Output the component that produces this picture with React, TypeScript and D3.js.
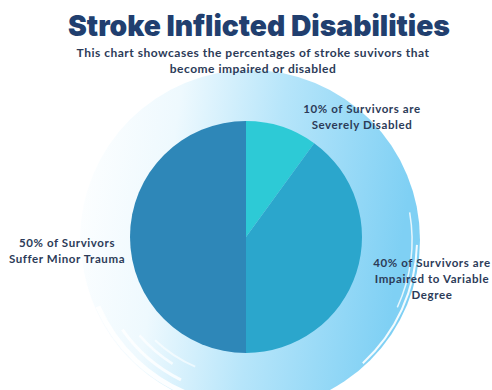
import React from "react";
import * as d3 from "d3";

const categories = ["Severely Disabled", "Impaired to Variable Degree", "Suffer Minor Trauma"];
const values = [10, 40, 50];
const colors = ["#2dcad6", "#2ba6cc", "#2e87b8"];
const labelLines = [
  ["10% of Survivors are", "Severely Disabled"],
  ["40% of Survivors are", "Impaired to Variable", "Degree"],
  ["50% of Survivors", "Suffer Minor Trauma"],
];
const title = "Stroke Inflicted Disabilities";
const subtitle = ["This chart showcases the percentages of stroke suvivors that", "become impaired or disabled"];

const W = 492;
const H = 390;

export default function App() {
  const cx = 246;
  const cy = 237;
  const r = 116;
  const bgR = 170;
  const bgCx = 250;
  const bgCy = 240;

  const pie = d3.pie<number>().sort(null).startAngle(0).endAngle(2 * Math.PI);
  const arcs = pie(values);
  const arcGen = d3.arc<d3.PieArcDatum<number>>().innerRadius(0).outerRadius(r);

  const labelPos = [
    { x: 362, y: 113 },
    { x: 432, y: 267 },
    { x: 67, y: 247 },
  ];

  const streaks = [
    { r: bgR - 4, a0: 3.5, a1: 4.3, w: 5, o: 0.9 },
    { r: bgR - 14, a0: 3.6, a1: 4.1, w: 3, o: 0.8 },
    { r: bgR - 24, a0: 3.7, a1: 4.0, w: 2.5, o: 0.7 },
    { r: bgR - 32, a0: 3.55, a1: 3.9, w: 2, o: 0.6 },
    { r: bgR + 2, a0: 3.3, a1: 4.6, w: 6, o: 1 },
    { r: bgR - 8, a0: 1.4, a1: 2.0, w: 1.5, o: 0.8 },
    { r: bgR - 3, a0: 1.6, a1: 2.4, w: 2, o: 0.9 },
  ];
  const streakArc = (s: { r: number; a0: number; a1: number; w: number }) =>
    d3.arc()({ innerRadius: s.r - s.w / 2, outerRadius: s.r + s.w / 2, startAngle: s.a0, endAngle: s.a1 } as any) as string;

  return (
    <div style={{ position: "fixed", left: 0, top: 0, width: W, height: H, background: "#fff" }}>
      <svg width={W} height={H} viewBox={`0 0 ${W} ${H}`} style={{ display: "block" }}>
        <defs>
          <linearGradient id="bgGrad" x1="0" y1="0" x2="1" y2="0.15">
            <stop offset="0" stopColor="#ffffff" />
            <stop offset="0.3" stopColor="#eef9fe" />
            <stop offset="0.6" stopColor="#b6e5fa" />
            <stop offset="1" stopColor="#7fd0f4" />
          </linearGradient>
        </defs>
        <rect x={0} y={0} width={W} height={H} fill="#ffffff" />
        <circle cx={bgCx} cy={bgCy} r={bgR} fill="url(#bgGrad)" />
        <g transform={`translate(${bgCx},${bgCy})`}>
          {streaks.map((s, i) => (
            <path key={i} d={streakArc(s)} fill="#ffffff" opacity={s.o} />
          ))}
        </g>
        <g transform={`translate(${cx},${cy})`}>
          {arcs.map((a, i) => (
            <path key={categories[i]} d={arcGen(a) as string} fill={colors[i]} />
          ))}
        </g>
        <text
          x={259}
          y={36}
          textAnchor="middle"
          fontFamily="Inter, 'Noto Sans', sans-serif"
          fontWeight={900}
          fontSize={29}
          fill="#213f6f"
          textLength={382}
          lengthAdjust="spacingAndGlyphs"
        >
          {title}
        </text>
        {subtitle.map((s, i) => (
          <text
            key={i}
            x={253}
            y={57 + i * 16}
            textAnchor="middle"
            fontFamily="Lato, 'Noto Sans', sans-serif"
            fontWeight={700}
            fontSize={12}
            letterSpacing={0.5}
            fill="#2c3b58"
          >
            {s}
          </text>
        ))}
        {labelLines.map((lines, i) =>
          lines.map((ln, j) => (
            <text
              key={`${i}-${j}`}
              x={labelPos[i].x}
              y={labelPos[i].y + j * 16}
              textAnchor="middle"
              fontFamily="Lato, 'Noto Sans', sans-serif"
              fontWeight={700}
              fontSize={11.5}
              letterSpacing={0.6}
              fill="#2c3b58"
            >
              {ln}
            </text>
          ))
        )}
      </svg>
    </div>
  );
}
